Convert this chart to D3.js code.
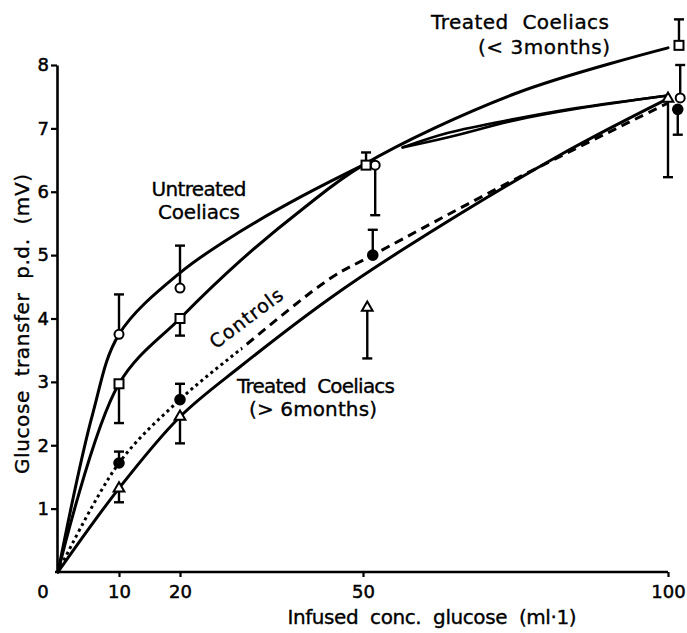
<!DOCTYPE html>
<html><head><meta charset="utf-8">
<script src="https://cdn.jsdelivr.net/npm/d3@7"></script>
<style>body{margin:0;background:#fff}svg{display:block}text{white-space:pre}</style>
</head><body><svg id="c" width="687" height="633"></svg>
<script>
// ---- tick values ----
const xTickValues = [10, 20, 50, 100];
const yTickValues = [1, 2, 3, 4, 5, 6, 7, 8];

// ---- measured points (mean) and error-bar ends ----
const untreatedX   = [10, 20, 52.0, 102];
const untreatedY   = [3.75, 4.48, 6.42, 7.48];
const untreatedErr = [4.38, 5.15, 5.63, 8.0];

const treated3X   = [10, 20, 50.5, 101.8];
const treated3Y   = [2.97, 4.0, 6.42, 8.31];
const treated3Err = [2.35, 3.73, 6.62, 8.72];

const controlsX   = [10, 20, 51.6, 101.6];
const controlsY   = [1.72, 2.72, 5.0, 7.3];
const controlsErr = [1.9, 2.97, 5.4, 6.9];

const treated6X   = [10, 20, 50.7, 100];
const treated6Y   = [1.32, 2.45, 4.17, 7.47];
const treated6Err = [1.1, 2.03, 3.37, 6.23];

// ---- fitted curves ----
const untreatedFitX = [0, 5.7, 10, 20, 30, 40, 50];
const untreatedFitY = [0, 2.5, 3.75, 4.72, 5.38, 5.93, 6.42];
const untreatedTailAX = [56.5, 64, 75, 85, 100];
const untreatedTailAY = [6.7, 6.93, 7.15, 7.32, 7.52];
const untreatedTailBX = [56.5, 64, 75, 85, 100];
const untreatedTailBY = [6.7, 6.86, 7.13, 7.31, 7.52];

const treated3FitX = [0, 10, 20, 30, 40, 50, 75, 100];
const treated3FitY = [0, 2.97, 4.0, 4.92, 5.72, 6.42, 7.55, 8.27];

const controlsFitX = [0, 10, 20, 30, 44.6, 51.6, 75, 100];
const controlsFitY = [0, 1.72, 2.72, 3.52, 4.63, 5.0, 6.2, 7.4];
const controlsDotEnd = 30;

const treated6FitX = [0, 10, 20, 30, 44.6, 56.4, 82.3, 100];
const treated6FitY = [0, 1.32, 2.45, 3.25, 4.32, 5.08, 6.58, 7.47];

// ---- texts ----
const xTitle = "Infused  conc.  glucose  (ml·1)";
const yTitle = "Glucose  transfer  p.d.  (mV)";

const svg = d3.select("#c");
const FONT = "DejaVu Sans, sans-serif";
const x = d3.scaleLinear().domain([0, 100]).range([58, 668]);
const y = d3.scaleLinear().domain([0, 8]).range([572, 65]);
const zip = (a, b) => a.map((v, i) => [v, b[i]]);
const line = d3.line().x(d => x(d[0])).y(d => y(d[1])).curve(d3.curveCatmullRom.alpha(0.5));

// axes
const ya = svg.append("g").attr("transform", `translate(${x(0) - 1},0)`)
  .call(d3.axisLeft(y).tickValues(yTickValues).tickSize(6).tickSizeOuter(0).tickPadding(2));
const xa = svg.append("g").attr("transform", `translate(0,${y(0)})`)
  .call(d3.axisBottom(x).tickValues(xTickValues).tickSize(5).tickSizeOuter(0).tickPadding(8));
[ya, xa].forEach(g => {
  g.select(".domain").attr("stroke", "#000").attr("stroke-width", 2.6);
  g.selectAll(".tick line").attr("stroke", "#000").attr("stroke-width", 2.2);
  g.selectAll(".tick text").attr("fill", "#000").attr("font-family", FONT)
    .attr("font-size", 18).attr("stroke", "#000").attr("stroke-width", 0.5);
});
xa.select(".domain").attr("d", `M${x(0) - 3},0H${x(100)}`);
svg.append("text").attr("x", x(0) - 15).attr("y", y(0) + 26).attr("text-anchor", "middle")
  .attr("font-family", FONT).attr("font-size", 18).attr("stroke", "#000").attr("stroke-width", 0.5)
  .text("0");

// curves
const curves = svg.append("g").attr("fill", "none").attr("stroke", "#000").attr("stroke-width", 3)
  .attr("stroke-linecap", "round");
curves.append("path").attr("d", line(zip(untreatedFitX, untreatedFitY)));
curves.append("path").attr("d", line(zip(treated3FitX, treated3FitY)));
curves.append("path").attr("d", line(zip(untreatedTailAX, untreatedTailAY))).attr("stroke-width", 2.6);
curves.append("path").attr("d", line(zip(untreatedTailBX, untreatedTailBY))).attr("stroke-width", 2.6);
curves.append("path").attr("d", line(zip(treated6FitX, treated6FitY)));

const defs = svg.append("defs");
defs.append("clipPath").attr("id", "dotpart").append("rect")
  .attr("x", 0).attr("y", 0).attr("width", x(controlsDotEnd)).attr("height", 633);
defs.append("clipPath").attr("id", "dashpart").append("rect")
  .attr("x", x(controlsDotEnd)).attr("y", 0).attr("width", 687).attr("height", 633);
const cpath = line(zip(controlsFitX, controlsFitY));
curves.append("path").attr("d", cpath).attr("clip-path", "url(#dotpart)")
  .attr("stroke-dasharray", "3,3.5").attr("stroke-linecap", "butt");
curves.append("path").attr("d", cpath).attr("clip-path", "url(#dashpart)")
  .attr("stroke-dasharray", "9,6").attr("stroke-linecap", "butt");

// error bars
function errBars(xs, ys, es) {
  const g = svg.append("g").attr("stroke", "#000").attr("stroke-width", 2.4);
  xs.forEach((xv, i) => {
    g.append("line").attr("x1", x(xv)).attr("x2", x(xv)).attr("y1", y(ys[i])).attr("y2", y(es[i]));
    g.append("line").attr("x1", x(xv) - 5).attr("x2", x(xv) + 5).attr("y1", y(es[i])).attr("y2", y(es[i]));
  });
}
errBars(untreatedX, untreatedY, untreatedErr);
errBars(treated3X, treated3Y, treated3Err);
errBars(controlsX, controlsY, controlsErr);
errBars(treated6X, treated6Y, treated6Err);

// markers
const mk = svg.append("g").attr("stroke", "#000").attr("stroke-width", 2);
untreatedX.forEach((xv, i) => mk.append("circle").attr("cx", x(xv)).attr("cy", y(untreatedY[i]))
  .attr("r", 4.5).attr("fill", "#fff"));
treated3X.forEach((xv, i) => mk.append("rect").attr("x", x(xv) - 4.5).attr("y", y(treated3Y[i]) - 4.5)
  .attr("width", 9).attr("height", 9).attr("fill", "#fff"));
controlsX.forEach((xv, i) => mk.append("circle").attr("cx", x(xv)).attr("cy", y(controlsY[i]))
  .attr("r", 4.8).attr("fill", "#000"));
const tri = d3.symbol().type(d3.symbolTriangle).size(50);
treated6X.forEach((xv, i) => mk.append("path").attr("d", tri())
  .attr("transform", `translate(${x(xv)},${y(treated6Y[i])})`).attr("fill", "#fff"));

// labels
function label(txt, cx, cy, len, size, rot) {
  const t = svg.append("text").attr("font-family", FONT).attr("font-size", size || 20)
    .attr("fill", "#000").attr("stroke", "#000").attr("stroke-width", 0.35)
    .attr("text-anchor", "middle").attr("dominant-baseline", "central")
    .attr("textLength", len).attr("lengthAdjust", "spacing").text(txt);
  t.attr("transform", `translate(${cx},${cy})` + (rot ? ` rotate(${rot})` : ""));
  return t;
}
label("Treated  Coeliacs", 520, 22, 178);
label("(< 3months)", 544, 47, 132);
label("Untreated", 199, 189, 95);
label("Coeliacs", 199, 212, 82);
label("Controls", 246, 318, 86, 19, -37);
label("Treated  Coeliacs", 316, 386, 158);
label("(> 6months)", 313, 409, 128);
label(xTitle, 432, 617, 289);
label(yTitle, 22, 324, 300, 20, -90);
</script>
</body></html>
